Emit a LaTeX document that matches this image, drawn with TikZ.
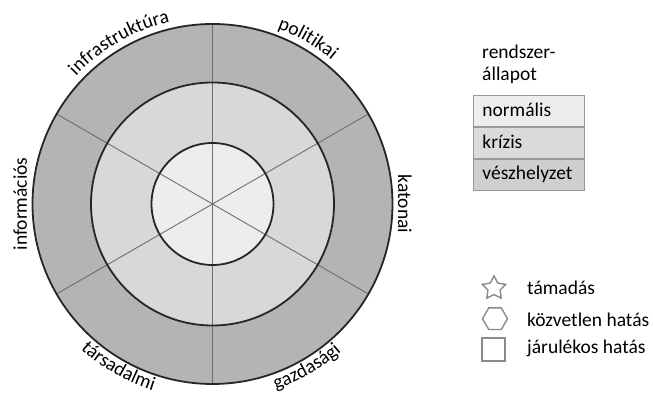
\documentclass[tikz,border=0pt]{standalone}
\usepackage{fontspec}
\setmainfont{Carlito}
\usetikzlibrary{positioning,shapes.geometric,decorations.text}
\definecolor{ringout}{HTML}{B4B4B4}
\definecolor{ringmid}{HTML}{D8D8D8}
\definecolor{ringin}{HTML}{EDEDED}
\definecolor{legmid}{HTML}{DBDBDB}
\definecolor{legout}{HTML}{CFCFCF}
\definecolor{spokegray}{HTML}{6E6E6E}
\definecolor{symgray}{HTML}{8A8A8A}
\newcommand\lblfont{\fontsize{19.5}{22}\selectfont}

\begin{document}
\begin{tikzpicture}[x=1pt, y=1pt, font=\lblfont,
	ring/.style={draw=black!85, line width=1.8pt},
	spokeline/.style={draw=spokegray, line width=0.9pt},
	arclabel/.style={decorate, decoration={text along path, text align=center, text={|\lblfont|#1}}},
	legrow/.style={draw=gray!80, line width=0.8pt, minimum width=111pt, minimum height=31pt, inner xsep=9pt, inner ysep=0pt, text width=93pt, align=left, text height=14pt, text depth=3pt},
	legsym/.style={draw=symgray, line width=1.4pt, inner sep=0pt},
	legtext/.style={anchor=base west, inner sep=0pt}]
			\useasboundingbox (0, 0) rectangle (653, 395);
			\coordinate (c) at (212.5, 191);
			\fill[ringout] (c) circle[radius=180];
			\fill[ringmid] (c) circle[radius=121.5];
			\fill[ringin] (c) circle[radius=61];
			\foreach \a in {30, 90, ..., 330}
				\draw[spokeline] (c) -- ++(\a:180);
			\foreach \r in {61, 121.5, 180}
				\draw[ring] (c) circle[radius=\r];
			% sector labels
			\path[arclabel=infrastruktúra] (c) ++(150:187) arc (150:90:187);
			\path[arclabel=politikai] (c) ++(90:187) arc (90:30:187);
			\path[arclabel=társadalmi] (c) ++(210:196) arc (210:270:196);
			\path[arclabel=gazdasági] (c) ++(270:196) arc (270:330:196);
			\node[rotate=-90, anchor=base, inner sep=0pt] (kat) at ([xshift=185.5pt]c) {katonai};
			\node[rotate=90, anchor=base, inner sep=0pt] (inf) at ([xshift=-185.5pt]c) {információs};
			% state legend
			\node[anchor=north west, align=left, inner sep=0pt] (state) at (482, 350) {rendszer-\\állapot};
			\node[legrow, fill=ringin, anchor=north west] (norm) at (473, 300) {normális};
			\node[legrow, fill=legmid, below=0pt of norm] (kriz) {krízis};
			\node[legrow, fill=legout, below=0pt of kriz] (vesz) {vészhelyzet};
			% effect legend
			\node[legsym, star, star points=5, star point ratio=1.9, minimum size=24.4pt] (atk) at (494, 106.8) {};
			\node[legsym, regular polygon, regular polygon sides=6, minimum size=25pt] (dir) at (495, 76.3) {};
			\node[legsym, rectangle, minimum size=23pt] (col) at (493.5, 45.5) {};
			\node[legtext] (atktxt) at (527, 100) {támadás};
			\node[legtext] (dirtxt) at (527, 68) {közvetlen hatás};
			\node[legtext] (coltxt) at (527, 41) {járulékos hatás};
\end{tikzpicture}
\end{document}
